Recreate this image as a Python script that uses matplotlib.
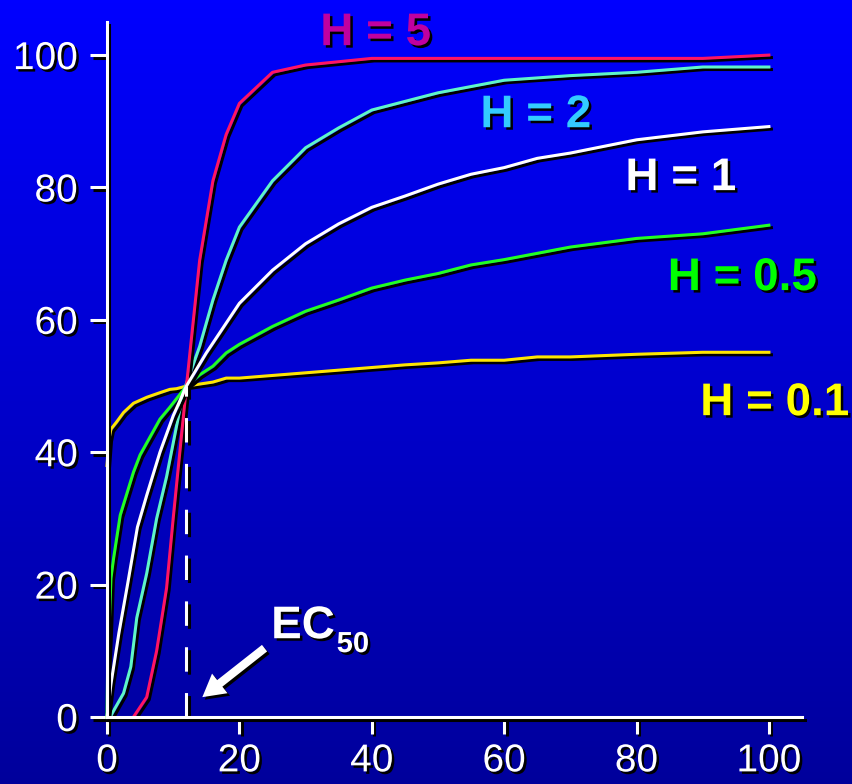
import numpy as np
import matplotlib
matplotlib.use("Agg")
import matplotlib.pyplot as plt
import matplotlib.patheffects as pe

plt.rcParams['font.family'] = ['Liberation Sans', 'DejaVu Sans']

# values (concentration vs % response)
x_h5 = [4, 6, 7.5, 9, 10, 11, 12, 14, 16, 18, 20, 25, 30, 40, 50, 60, 70, 80, 90, 100]
y_h5 = [0, 3, 10, 19.5, 30, 40, 50, 69, 81, 88, 92.7, 97.4, 98.5, 99.5, 99.5, 99.5, 99.5, 99.5, 99.5, 100]

x_h2 = [0.5, 0.8, 2.5, 3.6, 4.5, 6, 7.5, 9, 11.5, 14, 16, 18, 20, 25, 30, 35, 40, 45, 50, 60, 70, 80, 90, 100]
y_h2 = [0, 0.6, 3.6, 7.6, 15, 21.7, 30, 36.3, 49, 56, 63, 69, 74, 81, 86, 89, 91.7, 93, 94.3, 96.2, 96.9, 97.4, 98.2, 98.2]

x_h1 = [0, 0.6, 1.8, 3.1, 4.6, 6, 8, 10, 12, 15, 18, 20, 25, 30, 35, 40, 45, 50, 55, 60, 65, 70, 80, 90, 100]
y_h1 = [0, 5, 12.7, 20, 28.7, 33.5, 40, 45.5, 50, 55, 59.5, 62.5, 67.5, 71.5, 74.5, 77, 78.7, 80.5, 82, 83, 84.4, 85.2, 87.2, 88.4, 89.2]

x_h05 = [0, 0.1, 0.3, 0.6, 1, 2, 4, 5, 8, 9.5, 12, 14, 16, 18, 20, 25, 30, 35, 40, 45, 50, 55, 60, 70, 80, 90, 100]
y_h05 = [0, 8, 13, 21, 24, 30.5, 37, 39.6, 45, 46.8, 50, 51.7, 53, 55, 56.3, 59, 61.3, 63, 64.8, 66, 67, 68.3, 69.1, 71, 72.3, 73, 74.3]

x_h01 = [0, 0.3, 0.6, 1.4, 2.5, 4, 6, 8, 9.5, 10.5, 12, 16, 18, 20, 30, 40, 45, 50, 55, 60, 65, 70, 80, 90, 100]
y_h01 = [38, 42, 43.5, 44.5, 46, 47.4, 48.3, 49, 49.5, 49.6, 50, 50.6, 51.2, 51.2, 52, 52.8, 53.2, 53.5, 53.9, 53.9, 54.4, 54.4, 54.8, 55.1, 55.1]

labels = ['H = 5', 'H = 2', 'H = 1', 'H = 0.5', 'H = 0.1']
ec50 = 12
ticks = [0, 20, 40, 60, 80, 100]


def line_shadow():
    return [pe.SimpleLineShadow(offset=(1.8, -1.8), shadow_color='black', alpha=1.0), pe.Normal()]


def text_shadow():
    return [pe.SimplePatchShadow(offset=(1.8, -1.8), shadow_rgbFace='black', alpha=1.0), pe.Normal()]


fig = plt.figure(figsize=(8.53, 7.84), dpi=100)

# blue gradient background
bg = fig.add_axes([0, 0, 1, 1], zorder=0)
blue = np.linspace(1.0, 0.61, 256)
grad = np.zeros((256, 1, 3))
grad[:, 0, 2] = blue
bg.imshow(grad, aspect='auto', extent=[0, 1, 0, 1])
bg.axis('off')

ax = fig.add_axes([107 / 853, 1 - 717 / 784, 695 / 853, 695 / 784], zorder=1)
ax.set_facecolor('none')

curves = [
    (x_h01, y_h01, '#ffe600'),
    (x_h05, y_h05, '#22ff22'),
    (x_h2, y_h2, '#5ff5c8'),
    (x_h5, y_h5, '#ff1464'),
    (x_h1, y_h1, 'white'),
]
for xs, ys, col in curves:
    ax.plot(xs, ys, color=col, lw=2.2, clip_on=False, solid_joinstyle='round',
            path_effects=line_shadow())

ax.vlines(ec50, 0, 50, colors='white', lw=2.2, linestyles=(0, (8, 7)),
          path_effects=line_shadow())

ax.set_xlim(0, 105)
ax.set_ylim(0, 105)
ax.set_xticks(ticks)
ax.set_yticks(ticks)
for s in ['top', 'right']:
    ax.spines[s].set_visible(False)
for s in ['left', 'bottom']:
    ax.spines[s].set_color('white')
    ax.spines[s].set_linewidth(2.2)
    ax.spines[s].set_path_effects(line_shadow())
ax.tick_params(colors='white', length=12, width=2.2, direction='out', labelsize=28)
ax.tick_params(axis='x', pad=7)
ax.tick_params(axis='y', pad=9)
for t in ax.xaxis.get_major_ticks() + ax.yaxis.get_major_ticks():
    t.tick1line.set_path_effects(line_shadow())
for lab in ax.get_xticklabels() + ax.get_yticklabels():
    lab.set_path_effects(text_shadow())

label_style = dict(fontsize=33, fontweight='bold', ha='center', va='baseline',
                   clip_on=False, path_effects=text_shadow())
ax.text(40.6, 101.5, labels[0], color='#c000a0', **label_style)
ax.text(64.8, 89.1, labels[1], color='#33ccff', **label_style)
ax.text(86.7, 79.6, labels[2], color='white', **label_style)
ax.text(96.0, 64.5, labels[3], color='#00ff00', **label_style)
ax.text(100.9, 45.6, labels[4], color='#ffff00', **label_style)

ax.text(24.8, 11.9, 'EC', color='white', fontsize=33, fontweight='bold',
        ha='left', va='baseline', path_effects=text_shadow())
ax.text(34.7, 9.8, '50', color='white', fontsize=21, fontweight='bold',
        ha='left', va='baseline', path_effects=text_shadow())

arr = ax.annotate('', xy=(14.4, 3.0), xytext=(23.8, 10.4),
                  arrowprops=dict(arrowstyle='simple,head_length=0.8,head_width=0.9,tail_width=0.3',
                                  mutation_scale=20, fc='white', ec='none',
                                  shrinkA=0, shrinkB=0))
arr.arrow_patch.set_path_effects(text_shadow())

fig.savefig('out.png', dpi=100)
